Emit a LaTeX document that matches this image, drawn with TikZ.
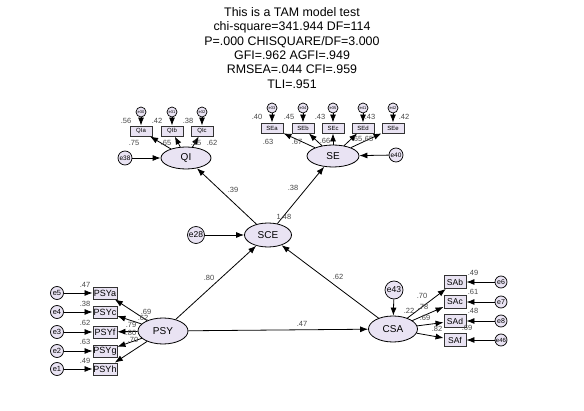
\documentclass[tikz,border=0pt]{standalone}
\usepackage{fontspec}
\setmainfont{Liberation Sans}
\usetikzlibrary{arrows.meta,shapes.geometric}
\definecolor{latfill}{RGB}{233,227,243}
\definecolor{numgray}{RGB}{70,70,70}

\begin{document}
\begin{tikzpicture}[x=1pt,y=1pt]
\tikzstyle{latent} = [draw=black,fill=latfill,shape=ellipse,inner sep=0pt,line width=0.8pt,font=\fontsize{10}{10}\selectfont]
\tikzstyle{err} = [draw=black,fill=latfill,shape=circle,inner sep=0pt,line width=0.7pt]
\tikzstyle{obs} = [draw=black!80,fill=latfill,shape=rectangle,inner sep=0pt,line width=0.9pt]
\tikzstyle{reg} = [line width=0.8pt,-{Latex[length=8pt,width=6pt]}]
\tikzstyle{num} = [text=numgray,inner sep=0pt,font=\fontsize{7.5}{7.5}\selectfont]

\useasboundingbox (0,0) rectangle (584,-411);

\node[font=\fontsize{12.4}{14.3}\selectfont,align=center,anchor=north,inner sep=0pt] (title) at (292,-7.5)
  {This is a TAM model test\\chi-square=341.944 DF=114\\P=.000 CHISQUARE/DF=3.000\\GFI=.962 AGFI=.949\\RMSEA=.044 CFI=.959\\TLI=.951};

% latent variables
\node[latent,minimum width=50,minimum height=22] (QI) at (186,-158) {QI};
\node[latent,minimum width=52,minimum height=22] (SE) at (333,-156) {SE};
\node[latent,minimum width=47,minimum height=24] (SCE) at (268,-235) {SCE};
\node[latent,minimum width=50,minimum height=26] (PSY) at (163,-331) {PSY};
\node[latent,minimum width=49,minimum height=26] (CSA) at (393,-329) {CSA};

% disturbances
\node[err,minimum size=14,font=\fontsize{6.5}{6.5}\selectfont] (e38) at (125,-158) {e38};
\node[err,minimum size=14,font=\fontsize{6.5}{6.5}\selectfont] (e40) at (396,-155) {e40};
\node[err,minimum size=17,font=\fontsize{8.5}{8.5}\selectfont] (e28) at (196,-235) {e28};
\node[err,minimum size=18,font=\fontsize{8.5}{8.5}\selectfont] (e43) at (394,-290) {e43};

% QI indicators
\node[obs,minimum width=22,minimum height=10,font=\fontsize{6}{6}\selectfont] (QIa) at (141,-131) {QIa};
\node[obs,minimum width=22,minimum height=10,font=\fontsize{6}{6}\selectfont] (QIb) at (172,-131) {QIb};
\node[obs,minimum width=22,minimum height=10,font=\fontsize{6}{6}\selectfont] (QIc) at (202,-131) {QIc};
\node[err,minimum size=10,font=\fontsize{4}{4}\selectfont] (e30) at (141,-112) {e30};
\node[err,minimum size=10,font=\fontsize{4}{4}\selectfont] (e31) at (172,-112) {e31};
\node[err,minimum size=10,font=\fontsize{4}{4}\selectfont] (e32) at (202,-112) {e32};

% SE indicators
\node[obs,minimum width=22,minimum height=10,font=\fontsize{6}{6}\selectfont] (SEa) at (272,-128) {SEa};
\node[obs,minimum width=22,minimum height=10,font=\fontsize{6}{6}\selectfont] (SEb) at (303,-128) {SEb};
\node[obs,minimum width=22,minimum height=10,font=\fontsize{6}{6}\selectfont] (SEc) at (333,-128) {SEc};
\node[obs,minimum width=22,minimum height=10,font=\fontsize{6}{6}\selectfont] (SEd) at (363,-128) {SEd};
\node[obs,minimum width=22,minimum height=10,font=\fontsize{6}{6}\selectfont] (SEe) at (393,-128) {SEe};
\node[err,minimum size=10,font=\fontsize{4}{4}\selectfont] (e33) at (272,-108) {e33};
\node[err,minimum size=10,font=\fontsize{4}{4}\selectfont] (e34) at (303,-108) {e34};
\node[err,minimum size=10,font=\fontsize{4}{4}\selectfont] (e35) at (333,-108) {e35};
\node[err,minimum size=10,font=\fontsize{4}{4}\selectfont] (e41) at (363,-108) {e41};
\node[err,minimum size=10,font=\fontsize{4}{4}\selectfont] (e42) at (393,-108) {e42};

% PSY indicators
\node[obs,minimum width=24,minimum height=12,font=\fontsize{9}{9}\selectfont] (PSYa) at (105,-293) {PSYa};
\node[obs,minimum width=24,minimum height=12,font=\fontsize{9}{9}\selectfont] (PSYc) at (105,-312) {PSYc};
\node[obs,minimum width=24,minimum height=12,font=\fontsize{9}{9}\selectfont] (PSYf) at (105,-332) {PSYf};
\node[obs,minimum width=24,minimum height=12,font=\fontsize{9}{9}\selectfont] (PSYg) at (105,-351) {PSYg};
\node[obs,minimum width=24,minimum height=12,font=\fontsize{9}{9}\selectfont] (PSYh) at (105,-369) {PSYh};
\node[err,minimum size=13,font=\fontsize{7.5}{7.5}\selectfont] (e5) at (57,-293) {e5};
\node[err,minimum size=13,font=\fontsize{7.5}{7.5}\selectfont] (e4) at (57,-312) {e4};
\node[err,minimum size=13,font=\fontsize{7.5}{7.5}\selectfont] (e3) at (57,-332) {e3};
\node[err,minimum size=13,font=\fontsize{7.5}{7.5}\selectfont] (e2) at (57,-351) {e2};
\node[err,minimum size=13,font=\fontsize{7.5}{7.5}\selectfont] (e1) at (57,-369) {e1};

% CSA indicators
\node[obs,minimum width=22,minimum height=13,font=\fontsize{8.5}{8.5}\selectfont] (SAb) at (455,-282) {SAb};
\node[obs,minimum width=22,minimum height=13,font=\fontsize{8.5}{8.5}\selectfont] (SAc) at (455,-302) {SAc};
\node[obs,minimum width=22,minimum height=13,font=\fontsize{8.5}{8.5}\selectfont] (SAd) at (455,-321) {SAd};
\node[obs,minimum width=22,minimum height=13,font=\fontsize{8.5}{8.5}\selectfont] (SAf) at (455,-340) {SAf};
\node[err,minimum size=12,font=\fontsize{7}{7}\selectfont] (e6) at (501,-282) {e6};
\node[err,minimum size=12,font=\fontsize{7}{7}\selectfont] (e7) at (501,-302) {e7};
\node[err,minimum size=12,font=\fontsize{7}{7}\selectfont] (e8) at (501,-321) {e8};
\node[err,minimum size=12,font=\fontsize{6}{6}\selectfont] (e46) at (501,-340) {e46};

% paths
\draw[reg] (SCE) -- (QI);
\draw[reg] (SCE) -- (SE);
\draw[reg] (PSY) -- (SCE);
\draw[reg] (CSA) -- (SCE);
\draw[reg] (PSY) -- (CSA);
\draw[reg] (e38) -- (QI);
\draw[reg] (e40) -- (SE);
\draw[reg] (e28) -- (SCE);
\draw[reg] (e43) -- (CSA);

\draw[reg] (QI) -- (QIa);
\draw[reg] (QI) -- (QIb);
\draw[reg] (QI) -- (QIc);
\draw[reg] (e30) -- (QIa);
\draw[reg] (e31) -- (QIb);
\draw[reg] (e32) -- (QIc);

\draw[reg] (SE) -- (SEa);
\draw[reg] (SE) -- (SEb);
\draw[reg] (SE) -- (SEc);
\draw[reg] (SE) -- (SEd);
\draw[reg] (SE) -- (SEe);
\draw[reg] (e33) -- (SEa);
\draw[reg] (e34) -- (SEb);
\draw[reg] (e35) -- (SEc);
\draw[reg] (e41) -- (SEd);
\draw[reg] (e42) -- (SEe);

\draw[reg] (PSY) -- (PSYa);
\draw[reg] (PSY) -- (PSYc);
\draw[reg] (PSY) -- (PSYf);
\draw[reg] (PSY) -- (PSYg);
\draw[reg] (PSY) -- (PSYh);
\draw[reg] (e5) -- (PSYa);
\draw[reg] (e4) -- (PSYc);
\draw[reg] (e3) -- (PSYf);
\draw[reg] (e2) -- (PSYg);
\draw[reg] (e1) -- (PSYh);

\draw[reg] (CSA) -- (SAb);
\draw[reg] (CSA) -- (SAc);
\draw[reg] (CSA) -- (SAd);
\draw[reg] (CSA) -- (SAf);
\draw[reg] (e6) -- (SAb);
\draw[reg] (e7) -- (SAc);
\draw[reg] (e8) -- (SAd);
\draw[reg] (e46) -- (SAf);

% estimates
\node[num] (n1) at (233,-190) {.39};
\node[num] (n2) at (293,-188) {.38};
\node[num] (n3) at (284,-217) {1.48};
\node[num] (n4) at (209,-278) {.80};
\node[num] (n5) at (338,-277) {.62};
\node[num] (n6) at (302,-324) {.47};
\node[num] (n7) at (409,-311) {.22};

\node[num] (n8) at (126,-121) {.56};
\node[num] (n9) at (157,-121) {.42};
\node[num] (n10) at (188,-121) {.38};
\node[num] (n11) at (134,-143) {.75};
\node[num] (n12) at (166,-143) {.65};
\node[num] (n13) at (196,-143) {.15};
\node[num] (n14) at (212,-143) {.62};

\node[num] (n15) at (257,-117) {.40};
\node[num] (n16) at (289,-117) {.45};
\node[num] (n17) at (320,-117) {.43};
\node[num] (n18) at (370,-117) {.43};
\node[num] (n19) at (404,-117) {.42};
\node[num] (n20) at (268,-142) {.63};
\node[num] (n21) at (297,-142) {.67};
\node[num] (n22) at (325,-141) {.66};
\node[num] (n23) at (357,-139) {.65};
\node[num] (n24) at (368,-139) {.65};

\node[num] (n25) at (85,-285) {.47};
\node[num] (n26) at (85,-304) {.38};
\node[num] (n27) at (85,-323) {.62};
\node[num] (n28) at (85,-342) {.63};
\node[num] (n29) at (85,-361) {.49};
\node[num] (n30) at (146,-312) {.69};
\node[num] (n31) at (143,-318) {.62};
\node[num] (n32) at (131,-325) {.79};
\node[num] (n33) at (131,-333) {.80};
\node[num] (n34) at (133,-340) {.70};

\node[num] (n35) at (473,-273) {.49};
\node[num] (n36) at (473,-292) {.61};
\node[num] (n37) at (473,-311) {.48};
\node[num] (n38) at (467,-328) {.69};
\node[num] (n39) at (422,-296) {.70};
\node[num] (n40) at (423,-307) {.78};
\node[num] (n41) at (425,-318) {.69};
\node[num] (n42) at (437,-329) {.82};

\end{tikzpicture}
\end{document}
